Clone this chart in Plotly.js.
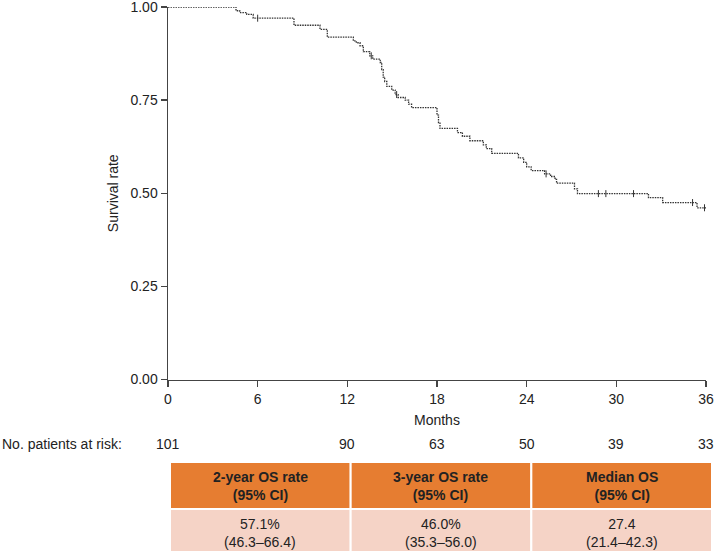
<!DOCTYPE html>
<html>
<head>
<meta charset="utf-8">
<script src="https://cdn.plot.ly/plotly-3.0.1.min.js"></script>
<style>
  html, body { margin: 0; padding: 0; background: #ffffff; }
  #chart { width: 719px; height: 551px; }
</style>
</head>
<body>
<div id="chart"></div>
<script>
// Kaplan-Meier step curve (months, survival probability)
const osMonths   = [0, 4.55, 4.8, 5.27, 5.7, 8.43, 10.17, 10.66, 12.4, 12.6, 12.85, 13.07, 13.5, 13.7, 14.2, 14.3, 14.4, 14.5, 14.64, 14.97, 15.2, 15.4, 15.87, 16.1, 16.3, 18.0, 18.1, 18.2, 19.37, 19.7, 20.2, 21.1, 21.3, 21.66, 23.45, 23.8, 24.0, 24.3, 25.2, 25.6, 25.9, 26.0, 27.2, 27.4, 32.15, 33.1, 35.4, 36];
const osSurvival = [1.0, 0.990, 0.985, 0.980, 0.970, 0.951, 0.940, 0.919, 0.909, 0.904, 0.896, 0.880, 0.869, 0.860, 0.851, 0.832, 0.812, 0.800, 0.787, 0.777, 0.765, 0.757, 0.750, 0.739, 0.730, 0.710, 0.690, 0.674, 0.663, 0.653, 0.641, 0.630, 0.620, 0.607, 0.595, 0.583, 0.571, 0.561, 0.552, 0.545, 0.537, 0.527, 0.512, 0.499, 0.488, 0.475, 0.461, 0.461];

// Censored observations
const censorMonths   = [6.0, 13.6, 15.3, 25.3, 28.8, 29.3, 31.15, 35.1, 35.9];
const censorSurvival = [0.970, 0.869, 0.765, 0.552, 0.499, 0.499, 0.499, 0.475, 0.461];

// Axis ticks
const xTicks = [0, 6, 12, 18, 24, 30, 36];
const yTicks = [0, 0.25, 0.5, 0.75, 1.0];
const yTickText = ['0.00', '0.25', '0.50', '0.75', '1.00'];

// Number at risk
const riskMonths = [0, 12, 18, 24, 30, 36];
const riskCounts = [101, 90, 63, 50, 39, 33];

// Summary table
const tableHeaders   = ['2-year OS rate', '3-year OS rate', 'Median OS'];
const tableHeaderCI  = ['(95% CI)', '(95% CI)', '(95% CI)'];
const tableEstimates = ['57.1%', '46.0%', '27.4'];
const tableCIs       = ['(46.3–66.4)', '(35.3–56.0)', '(21.4–42.3)'];

const FONT = 'Liberation Sans, Arial, Helvetica, sans-serif';
const TXT = '#222222';
const ORANGE = '#E67D31';
const PINK = '#F5D3C6';

// Geometry of the figure (pixels)
const W = 719, H = 551;
const mL = 168, mR = 7, mT = 0, mB = 0;
const plotW = W - mL - mR, plotH = H - mT - mB;
const axisRightPx = 706, axisTopPx = 7, axisBottomPx = 379.5;
const xDomEnd = (axisRightPx - mL) / plotW;
const yDomStart = (H - axisBottomPx) / plotH;
const yDomEnd = (H - axisTopPx) / plotH;
const pyToPaper = py => (H - py) / plotH;
const pxToPaper = px => (px - mL) / plotW;

const traces = [
  {
    type: 'scatter', mode: 'lines',
    x: osMonths, y: osSurvival,
    line: { shape: 'hv', color: '#333333', width: 1.3, dash: '1.5px,1px' },
    cliponaxis: false, hoverinfo: 'skip', showlegend: false
  },
  {
    type: 'scatter', mode: 'markers',
    x: censorMonths, y: censorSurvival,
    marker: { symbol: 'line-ns-open', size: 5, color: '#333333', line: { color: '#333333', width: 1 } },
    cliponaxis: false, hoverinfo: 'skip', showlegend: false
  }
];

// Table geometry
const tblLeft = 170, tblRight = 712, hdrTop = 462, hdrBottom = 509, bodyBottom = 556;
const colW = (tblRight - tblLeft) / tableHeaders.length;

const shapes = [];
const annotations = [];
tableHeaders.forEach((h, i) => {
  const x0 = tblLeft + i * colW, x1 = x0 + colW;
  shapes.push({
    type: 'rect', xref: 'paper', yref: 'paper', layer: 'below',
    x0: pxToPaper(x0), x1: pxToPaper(x1), y0: pyToPaper(hdrBottom), y1: pyToPaper(hdrTop),
    fillcolor: ORANGE, line: { color: '#ffffff', width: 2 }
  });
  shapes.push({
    type: 'rect', xref: 'paper', yref: 'paper', layer: 'below',
    x0: pxToPaper(x0), x1: pxToPaper(x1), y0: pyToPaper(bodyBottom), y1: pyToPaper(hdrBottom),
    fillcolor: PINK, line: { color: '#ffffff', width: 2 }
  });
  annotations.push({
    xref: 'paper', yref: 'paper', x: pxToPaper((x0 + x1) / 2), y: pyToPaper(486),
    text: '<b>' + h + '</b><br><b>' + tableHeaderCI[i] + '</b>',
    showarrow: false, align: 'center', xanchor: 'center', yanchor: 'middle',
    font: { family: FONT, size: 14, color: TXT }
  });
  annotations.push({
    xref: 'paper', yref: 'paper', x: pxToPaper((x0 + x1) / 2), y: pyToPaper(533),
    text: tableEstimates[i] + '<br>' + tableCIs[i],
    showarrow: false, align: 'center', xanchor: 'center', yanchor: 'middle',
    font: { family: FONT, size: 14, color: TXT }
  });
});

riskMonths.forEach((m, i) => {
  annotations.push({
    xref: 'x', yref: 'paper', x: m, y: pyToPaper(444),
    text: String(riskCounts[i]), showarrow: false,
    xanchor: 'center', yanchor: 'middle',
    font: { family: FONT, size: 14, color: TXT }
  });
});
annotations.push({
  xref: 'paper', yref: 'paper', x: pxToPaper(0), y: pyToPaper(444),
  text: 'No. patients at risk:', showarrow: false,
  xanchor: 'left', yanchor: 'middle',
  font: { family: FONT, size: 14, color: TXT }
});
annotations.push({
  xref: 'paper', yref: 'paper', x: pxToPaper(437), y: pyToPaper(420),
  text: 'Months', showarrow: false,
  xanchor: 'center', yanchor: 'middle',
  font: { family: FONT, size: 14, color: TXT }
});

const layout = {
  width: W, height: H,
  margin: { l: mL, r: mR, t: mT, b: mB, pad: 0 },
  paper_bgcolor: '#ffffff', plot_bgcolor: 'rgba(0,0,0,0)',
  showlegend: false,
  font: { family: FONT, size: 14, color: TXT },
  xaxis: {
    domain: [0, xDomEnd], range: [0, 36],
    tickmode: 'array', tickvals: xTicks, ticktext: xTicks.map(String),
    showgrid: false, zeroline: false,
    showline: true, linecolor: '#444444', linewidth: 1.5,
    ticks: 'outside', ticklen: 6, tickwidth: 1.5, tickcolor: '#444444',
    tickfont: { family: FONT, size: 14, color: TXT },
    ticklabeloverflow: 'allow',
    anchor: 'y', fixedrange: true
  },
  yaxis: {
    domain: [yDomStart, yDomEnd], range: [0, 1],
    tickmode: 'array', tickvals: yTicks, ticktext: yTickText,
    showgrid: false, zeroline: false,
    showline: true, linecolor: '#444444', linewidth: 1.5,
    ticks: 'outside', ticklen: 6, tickwidth: 1.5, tickcolor: '#444444',
    tickfont: { family: FONT, size: 14, color: TXT },
    ticklabeloverflow: 'allow',
    title: { text: 'Survival rate', font: { family: FONT, size: 14, color: TXT }, standoff: 8 },
    anchor: 'x', fixedrange: true
  },
  shapes: shapes,
  annotations: annotations
};

Plotly.newPlot('chart', traces, layout, { displayModeBar: false, staticPlot: true });
</script>
</body>
</html>
